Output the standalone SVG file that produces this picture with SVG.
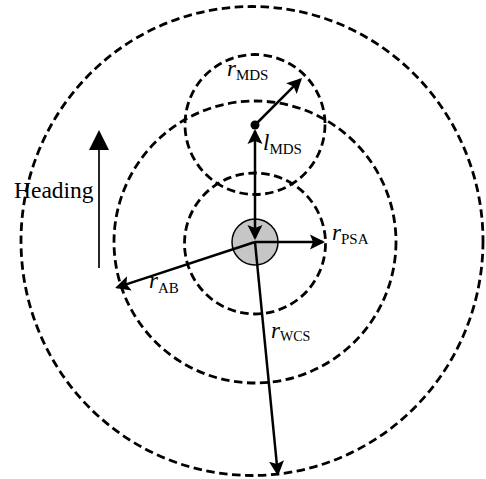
<svg xmlns="http://www.w3.org/2000/svg" width="486" height="479" viewBox="0 0 486 479">
<style>
.ring{fill:none;stroke:#000;stroke-width:2.8;stroke-dasharray:8.5 4.5}
.arr{fill:none;stroke:#000;stroke-width:2.5}
.t{font-family:"Liberation Serif","Times New Roman",serif;fill:#000}
.v{font-style:italic;font-size:23px}
.s{font-size:15px}
</style>
<defs>
<marker id="ah" markerUnits="userSpaceOnUse" markerWidth="16" markerHeight="16" viewBox="0 0 16 16" refX="13" refY="8" orient="auto-start-reverse">
<path d="M0,0.5 L15,8 L0,15.5 L3,8 z" fill="#000"/>
</marker>
</defs>
<rect width="486" height="479" fill="#fff"/>
<g id="wcs-ring"><ellipse class="ring" cx="252" cy="241" rx="231" ry="234.5"/></g>
<g id="ab-ring"><circle class="ring" cx="255" cy="242" r="141"/></g>
<g id="psa-ring"><circle class="ring" cx="255" cy="243.5" r="70.5"/></g>
<g id="mds-ring"><circle class="ring" cx="255" cy="124.5" r="70"/></g>
<g id="vehicle"><circle cx="255" cy="242" r="23" fill="#c6c6c6" stroke="#000" stroke-width="1.5"/></g>
<g id="mds-center"><circle cx="255" cy="125" r="4.5" fill="#000"/></g>
<g id="connectors">
<line class="arr" x1="255" y1="131" x2="255" y2="238" marker-start="url(#ah)" marker-end="url(#ah)"/>
<line class="arr" x1="255" y1="125" x2="300.6" y2="79.4" marker-end="url(#ah)"/>
<line class="arr" x1="255" y1="242" x2="323" y2="242" marker-end="url(#ah)"/>
<line class="arr" x1="255" y1="242" x2="117" y2="287.4" marker-end="url(#ah)"/>
<line class="arr" x1="255" y1="242" x2="277.8" y2="474" marker-end="url(#ah)"/>
</g>
<g id="heading">
<line x1="99" y1="268" x2="99" y2="148" stroke="#000" stroke-width="1.7"/>
<path d="M99,130 L109,150 L89,150 z" fill="#000"/>
<text class="t" x="14" y="198" font-size="23.5">Heading</text>
</g>
<g id="labels">
<text class="t" x="227" y="76"><tspan class="v">r</tspan><tspan class="s" dy="4">MDS</tspan></text>
<text class="t" x="263" y="150"><tspan class="v">l</tspan><tspan class="s" dy="4">MDS</tspan></text>
<text class="t" x="332" y="240"><tspan class="v">r</tspan><tspan class="s" dy="4">PSA</tspan></text>
<text class="t" x="149" y="288"><tspan class="v">r</tspan><tspan class="s" dy="5">AB</tspan></text>
<text class="t" x="271" y="338"><tspan class="v">r</tspan><tspan font-size="14" dy="3">WCS</tspan></text>
</g>
</svg>
